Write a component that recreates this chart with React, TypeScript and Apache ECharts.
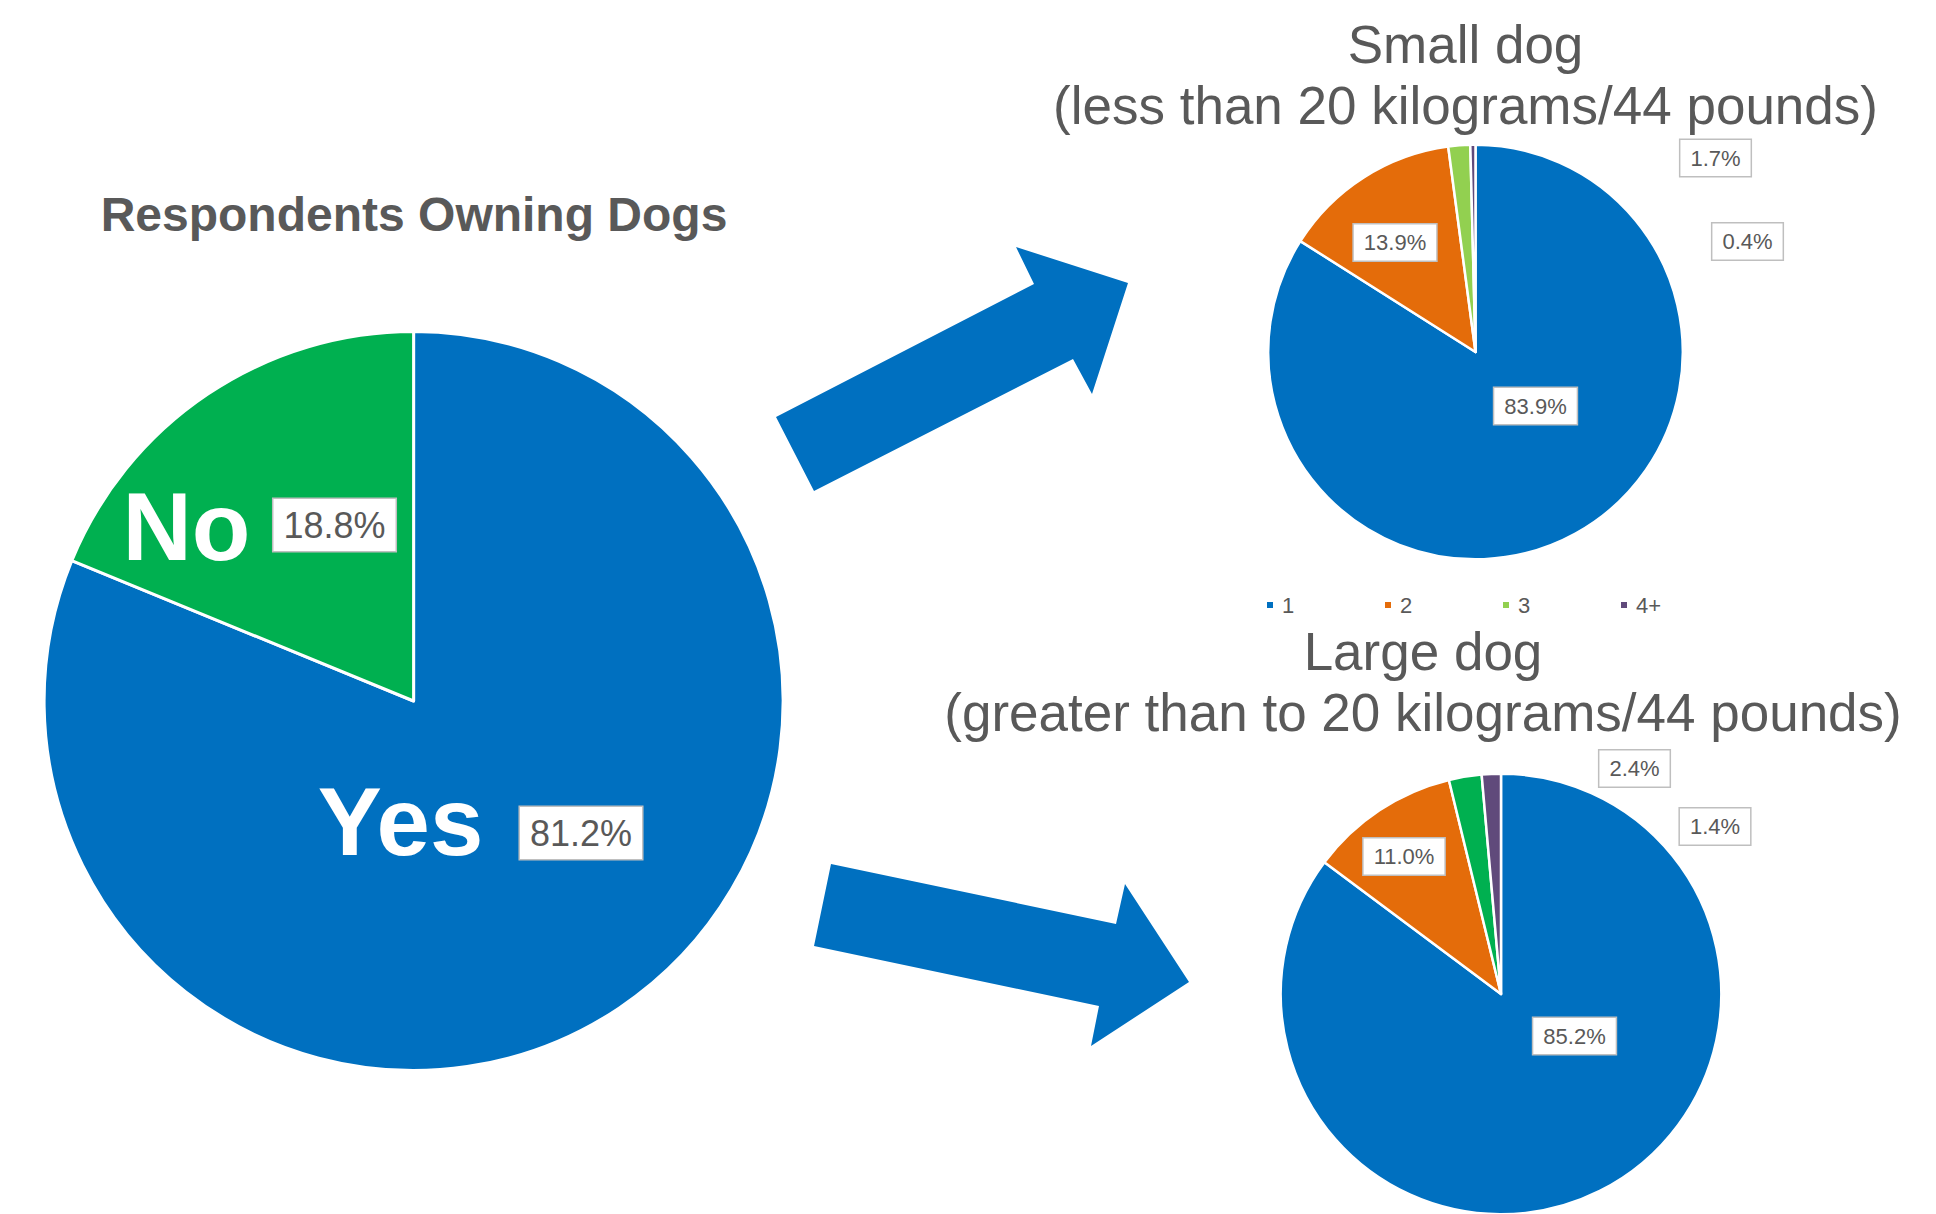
import React, { useEffect, useRef } from 'react';
import * as echarts from 'echarts';

const FONT = '"Liberation Sans", Arial, Helvetica, sans-serif';
const TEXT = '#595959';

// ---- data ----
const ownerCategories = ['Yes', 'No'];
const ownerValues = [81.2, 18.8];
const ownerColors = ['#0070C0', '#00B050'];

const countCategories = ['1', '2', '3', '4+'];
const smallDogValues = [83.9, 13.9, 1.7, 0.4];
const largeDogValues = [85.2, 11.0, 2.4, 1.4];
const smallDogColors = ['#0070C0', '#E46C0A', '#92D050', '#604A7B'];
const largeDogColors = ['#0070C0', '#E46C0A', '#00B050', '#604A7B'];

const mainTitle = 'Respondents Owning Dogs';
const smallTitle = 'Small dog\n(less than 20 kilograms/44 pounds)';
const largeTitle = 'Large dog\n(greater than to 20 kilograms/44 pounds)';

// ---- layout (positions / sizes) ----
const ownerPie = { center: [413.6, 701], radius: 369.5 };
const smallPie = { center: [1475.5, 352], radius: 207.3 };
const largePie = { center: [1501, 994], radius: 220.3 };

const ownerPctPos = [[581, 833], [334.5, 525]];
const ownerNamePos = [[400.5, 821], [186.5, 526]];
const smallPctPos = [[1535.5, 406], [1395, 242.5], [1715.5, 158], [1747.5, 241.5]];
const largePctPos = [[1574.5, 1036], [1404, 856.5], [1634.5, 768.5], [1715, 826.5]];

const arrowUp = [[776, 417], [1034, 284], [1016, 247], [1128, 283], [1092, 394], [1073, 359], [814, 491]];
const arrowDown = [[831, 864], [1116, 924], [1125, 884], [1189, 982], [1091, 1046], [1099, 1006], [814, 946]];

const placeAt = (pos: number[][]) => (params: any) => ({
  x: pos[params.dataIndex][0],
  y: pos[params.dataIndex][1],
  align: 'center',
  verticalAlign: 'middle',
});

const pctLabel = (fontSize: number, padding: number[]) => ({
  show: true,
  position: 'inside',
  formatter: (p: any) => `${Number(p.value).toFixed(1)}%`,
  fontSize,
  lineHeight: fontSize,
  fontFamily: FONT,
  color: TEXT,
  backgroundColor: '#FFFFFF',
  borderColor: '#BFBFBF',
  borderWidth: 1.5,
  padding,
});

const buildOption = () => ({
  animation: false,
  backgroundColor: '#FFFFFF',
  legend: {
    data: countCategories,
    left: 1265,
    top: 594,
    padding: 0,
    icon: 'rect',
    itemWidth: 8,
    itemHeight: 8,
    itemGap: 8,
    selectedMode: false,
    textStyle: {
      fontSize: 22,
      lineHeight: 22,
      color: TEXT,
      fontFamily: FONT,
      width: 93,
      padding: [0, 0, 0, 3],
    },
  },
  graphic: [
    { type: 'polygon', shape: { points: arrowUp }, style: { fill: '#0070C0' } },
    { type: 'polygon', shape: { points: arrowDown }, style: { fill: '#0070C0' } },
    {
      type: 'text', x: 414, y: 190,
      style: { text: mainTitle, fontSize: 48, fontWeight: 'bold', fontFamily: FONT, fill: TEXT, align: 'center', verticalAlign: 'top', lineHeight: 48 },
    },
    {
      type: 'text', x: 1465.5, y: 13.5,
      style: { text: smallTitle, fontSize: 53, fontFamily: FONT, fill: TEXT, align: 'center', verticalAlign: 'top', lineHeight: 61 },
    },
    {
      type: 'text', x: 1423, y: 620.5,
      style: { text: largeTitle, fontSize: 53, fontFamily: FONT, fill: TEXT, align: 'center', verticalAlign: 'top', lineHeight: 61 },
    },
  ],
  series: [
    {
      type: 'pie',
      name: 'Respondents Owning Dogs',
      center: ownerPie.center,
      radius: ownerPie.radius,
      startAngle: 90,
      clockwise: true,
      avoidLabelOverlap: false,
      silent: true,
      data: ownerCategories.map((n, i) => ({ name: n, value: ownerValues[i], itemStyle: { color: ownerColors[i] } })),
      itemStyle: { borderColor: '#FFFFFF', borderWidth: 3 },
      label: pctLabel(36, [8, 10]),
      labelLine: { show: false },
      labelLayout: placeAt(ownerPctPos),
      emphasis: { disabled: true },
    },
    {
      type: 'pie',
      name: 'ownerNames',
      center: ownerPie.center,
      radius: ownerPie.radius,
      startAngle: 90,
      clockwise: true,
      avoidLabelOverlap: false,
      silent: true,
      data: ownerCategories.map((n, i) => ({ name: n, value: ownerValues[i] })),
      itemStyle: { color: 'rgba(0,0,0,0)', borderWidth: 0 },
      label: {
        show: true,
        position: 'inside',
        formatter: '{b}',
        fontSize: 96,
        lineHeight: 96,
        fontWeight: 'bold',
        fontFamily: FONT,
        color: '#FFFFFF',
      },
      labelLine: { show: false },
      labelLayout: placeAt(ownerNamePos),
      emphasis: { disabled: true },
    },
    {
      type: 'pie',
      name: 'Small dog',
      center: smallPie.center,
      radius: smallPie.radius,
      startAngle: 90,
      clockwise: true,
      avoidLabelOverlap: false,
      silent: true,
      data: countCategories.map((n, i) => ({ name: n, value: smallDogValues[i], itemStyle: { color: smallDogColors[i] } })),
      itemStyle: { borderColor: '#FFFFFF', borderWidth: 2.5 },
      label: pctLabel(22, [7, 10]),
      labelLine: { show: false },
      labelLayout: placeAt(smallPctPos),
      emphasis: { disabled: true },
    },
    {
      type: 'pie',
      name: 'Large dog',
      center: largePie.center,
      radius: largePie.radius,
      startAngle: 90,
      clockwise: true,
      avoidLabelOverlap: false,
      silent: true,
      data: countCategories.map((n, i) => ({ name: n, value: largeDogValues[i], itemStyle: { color: largeDogColors[i] } })),
      itemStyle: { borderColor: '#FFFFFF', borderWidth: 2.5 },
      label: pctLabel(22, [7, 10]),
      labelLine: { show: false },
      labelLayout: placeAt(largePctPos),
      emphasis: { disabled: true },
    },
  ],
});

export default function App() {
  const ref = useRef<HTMLDivElement>(null);
  useEffect(() => {
    if (!ref.current) return;
    const chart = echarts.init(ref.current, null, { renderer: 'svg' });
    chart.setOption(buildOption() as any);
    return () => chart.dispose();
  }, []);
  return (
    <div
      ref={ref}
      style={{ position: 'absolute', left: 0, top: 0, width: 1936, height: 1214, background: '#FFFFFF' }}
    />
  );
}
